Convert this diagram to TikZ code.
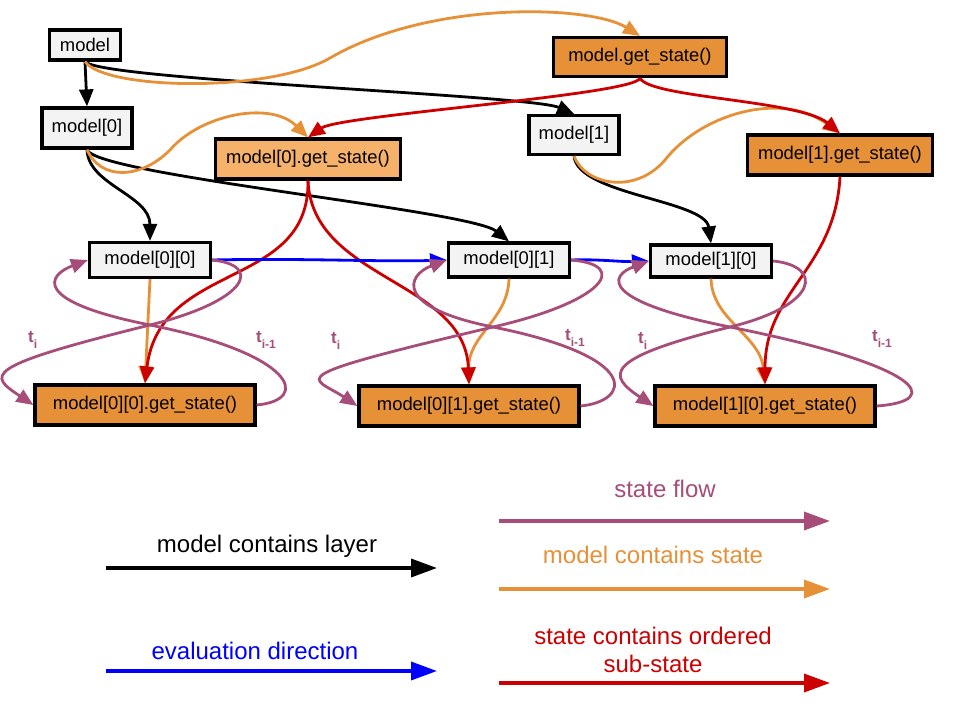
\documentclass[tikz,border=0pt]{standalone}
\usepackage{fontspec}
\setmainfont{Liberation Sans}
\usetikzlibrary{arrows.meta}
\definecolor{cgray}{HTML}{F3F3F3}
\definecolor{corange}{HTML}{E69138}
\definecolor{clight}{HTML}{F6B26B}
\definecolor{cpurple}{HTML}{A64D79}
\definecolor{cred}{HTML}{CC0000}
\definecolor{cblue}{HTML}{0000FF}
\begin{document}
\begin{tikzpicture}[x=1pt,y=-1pt,
  box/.style={draw=black,line width=3.2pt,rectangle,inner sep=0pt,font=\fontsize{18.4}{22}\selectfont},
  layer/.style={box,fill=cgray},
  statebox/.style={box,fill=corange},
  conn/.style={line width=2.8pt,-{Triangle[length=17pt,width=14pt]}},
  cblack/.style={conn,draw=black},
  corng/.style={conn,draw=corange},
  cstate/.style={conn,draw=cred},
  cevl/.style={conn,draw=cblue},
  flow/.style={conn,draw=cpurple},
  leg/.style={line width=3.5pt,-{Triangle[length=26pt,width=18pt]}},
  legtext/.style={font=\fontsize{24}{28}\selectfont,align=center},
  lbl/.style={text=cpurple,font=\bfseries\fontsize{17}{18}\selectfont,anchor=base west,inner sep=0pt}
]
\fill[white] (0,0) rectangle (960,720);
\useasboundingbox (0,0) rectangle (960,720);

% nodes
\node[layer,minimum width=71pt,minimum height=30pt] (m) at (85,45) {model};
\node[statebox,minimum width=173pt,minimum height=39pt] (mgs) at (640,57) {model.get\_state()};
\node[layer,minimum width=90pt,minimum height=40pt] (m0) at (87,128) {model[0]};
\node[layer,minimum width=90pt,minimum height=39pt] (m1) at (574,135) {model[1]};
\node[box,fill=clight,minimum width=185pt,minimum height=40pt] (m0gs) at (308,159) {model[0].get\_state()};
\node[statebox,minimum width=185pt,minimum height=40pt] (m1gs) at (840,155) {model[1].get\_state()};
\node[layer,minimum width=121pt,minimum height=35pt] (m00) at (150,260) {model[0][0]};
\node[layer,minimum width=121pt,minimum height=34pt] (m01) at (509,260) {model[0][1]};
\node[layer,minimum width=121pt,minimum height=32pt] (m10) at (711,261) {model[1][0]};
\node[statebox,minimum width=220pt,minimum height=40pt] (m00gs) at (145,405) {model[0][0].get\_state()};
\node[statebox,minimum width=220pt,minimum height=40pt] (m01gs) at (469,406) {model[0][1].get\_state()};
\node[statebox,minimum width=220pt,minimum height=40pt] (m10gs) at (765,406) {model[1][0].get\_state()};

% model contains layer
\draw[cblack] (m.south) -- (m0.north);
\draw[cblack] (m.south) .. controls (100,80) and (530,95) .. (m1.north);
\draw[cblack] (m0.south) .. controls (88,185) and (150,195) .. (m00.north);
\draw[cblack] (m0.south) .. controls (95,175) and (470,210) .. (m01.north);
\draw[cblack] (m1.south) .. controls (578,195) and (705,200) .. (m10.north);

% model contains state
\draw[corng] (m.south) .. controls (105,90) and (270,93) .. (330,58) .. controls (430,0) and (590,5) .. (mgs.north);
\draw[corng] (m0.south) .. controls (100,180) and (140,180) .. (170,150) .. controls (200,115) and (270,100) .. (m0gs.north);
\draw[corng] (m1.south) .. controls (585,185) and (635,195) .. (665,160) .. controls (700,115) and (780,90) .. (m1gs.north);
\draw[corng] (m00.south) -- (m00gs.north);
\draw[corng] (m01.south) .. controls (508,320) and (468,335) .. (m01gs.north);
\draw[corng] (m10.south) .. controls (712,320) and (760,335) .. (m10gs.north);

% state contains ordered sub-state
\draw[cstate] (mgs.south) .. controls (635,95) and (340,115) .. (m0gs.north);
\draw[cstate] (mgs.south) .. controls (650,98) and (800,100) .. (m1gs.north);
\draw[cstate] (m0gs.south) .. controls (310,290) and (160,260) .. (m00gs.north);
\draw[cstate] (m0gs.south) .. controls (312,280) and (465,280) .. (m01gs.north);
\draw[cstate] (m1gs.south) .. controls (835,270) and (765,290) .. (m10gs.north);

% evaluation direction
\draw[cevl] (m00.east) .. controls (300,258) and (380,262) .. (m01.west);
\draw[cevl] (m01.east) .. controls (600,259) and (620,262) .. (m10.west);

% state flow loops
\coordinate (X1) at (150,325);
\coordinate (X2) at (493,327);
\coordinate (X3) at (730,327);
\draw[flow] (m00.east) .. controls +(50,5) and +(100,-25) .. (X1) .. controls +(-170,42) and +(-45,-30) .. (m00gs.west);
\draw[flow] (m00gs.east) .. controls +(55,-5) and +(145,29) .. (X1) .. controls +(-120,-24) and +(-40,15) .. (m00.west);
\draw[flow] (m01.east) .. controls +(60,5) and +(110,-25) .. (X2) .. controls +(-220,52) and +(-45,-30) .. (m01gs.west);
\draw[flow] (m01gs.east) .. controls +(50,-5) and +(150,30) .. (X2) .. controls +(-100,-20) and +(-40,15) .. (m01.west);
\draw[flow] (m10.east) .. controls +(50,5) and +(90,-22) .. (X3) .. controls +(-130,32) and +(-45,-30) .. (m10gs.west);
\draw[flow] (m10gs.east) .. controls +(70,-5) and +(190,38) .. (X3) .. controls +(-130,-26) and +(-40,15) .. (m10.west);

\node[lbl] (ti1) at (28,342) {t\raisebox{-6pt}{\fontsize{12}{12}\selectfont i}};
\node[lbl] (tj1) at (256,342) {t\raisebox{-6pt}{\fontsize{12}{12}\selectfont i-1}};
\node[lbl] (ti2) at (331,343) {t\raisebox{-6pt}{\fontsize{12}{12}\selectfont i}};
\node[lbl] (tj2) at (565,340) {t\raisebox{-6pt}{\fontsize{12}{12}\selectfont i-1}};
\node[lbl] (ti3) at (638,343) {t\raisebox{-6pt}{\fontsize{12}{12}\selectfont i}};
\node[lbl] (tj3) at (872,341) {t\raisebox{-6pt}{\fontsize{12}{12}\selectfont i-1}};

% legend
\coordinate (la1) at (106,568); \coordinate (la2) at (437,568);
\coordinate (lb1) at (106,671); \coordinate (lb2) at (437,671);
\coordinate (lc1) at (499,521); \coordinate (lc2) at (830,521);
\coordinate (ld1) at (499,589); \coordinate (ld2) at (830,589);
\coordinate (le1) at (499,683); \coordinate (le2) at (830,683);
\draw[leg,draw=black] (la1) -- (la2);
\draw[leg,draw=cblue] (lb1) -- (lb2);
\draw[leg,draw=cpurple] (lc1) -- (lc2);
\draw[leg,draw=corange] (ld1) -- (ld2);
\draw[leg,draw=cred] (le1) -- (le2);
\node[legtext,text=black] (lta) at (267,546) {model contains layer};
\node[legtext,text=cblue] (ltb) at (255,651) {evaluation direction};
\node[legtext,text=cpurple] (ltc) at (665,489) {state flow};
\node[legtext,text=corange] (ltd) at (653,555) {model contains state};
\node[legtext,text=cred] (lte) at (653,650) {state contains ordered\\sub-state};
\end{tikzpicture}
\end{document}
